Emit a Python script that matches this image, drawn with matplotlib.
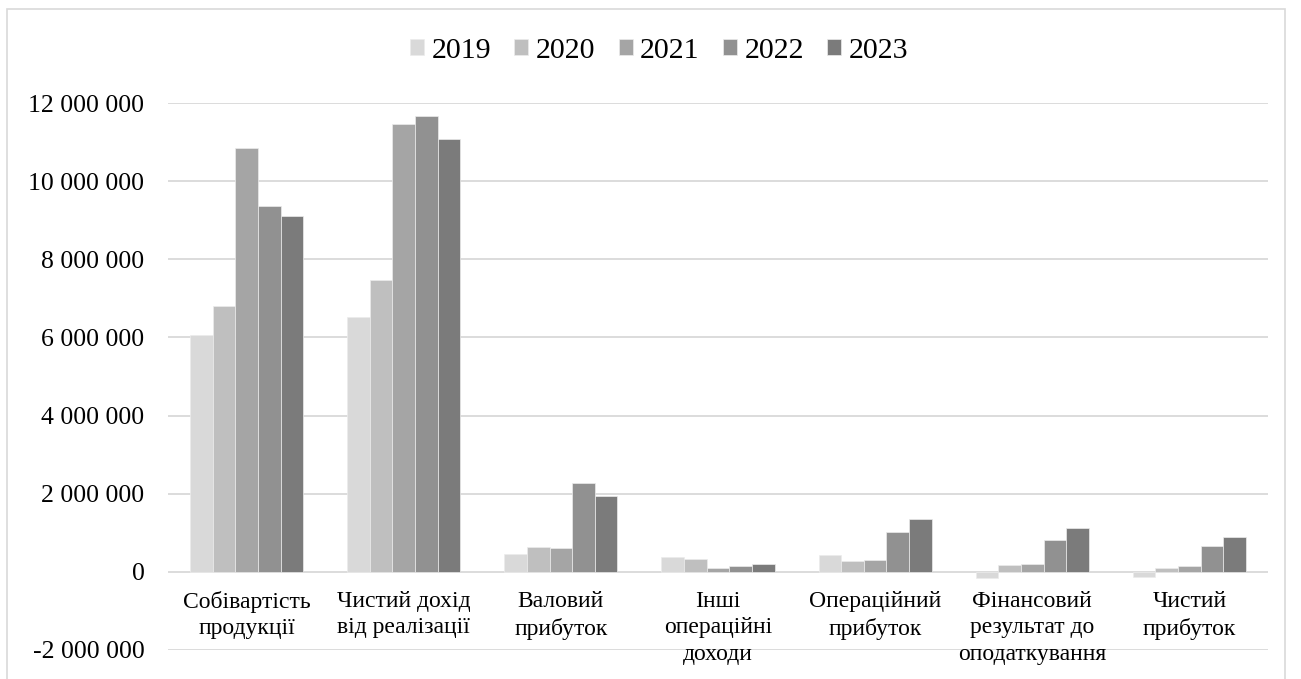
import matplotlib
matplotlib.use("Agg")
import matplotlib.pyplot as plt
import matplotlib.ticker as mticker
from matplotlib.patches import Rectangle
import numpy as np

plt.rcParams['font.family'] = ['Liberation Serif', 'DejaVu Serif']

categories = ["Собівартість\nпродукції", "Чистий дохід\nвід реалізації", "Валовий\nприбуток",
              "Інші\nопераційні\nдоходи", "Операційний\nприбуток", "Фінансовий\nрезультат до\nоподаткування",
              "Чистий\nприбуток"]
years = ["2019", "2020", "2021", "2022", "2023"]
v2019 = [6055000, 6520000, 460000, 370000, 430000, -160000, -140000]
v2020 = [6800000, 7460000, 640000, 340000, 280000, 170000, 110000]
v2021 = [10840000, 11450000, 600000, 110000, 310000, 200000, 160000]
v2022 = [9370000, 11660000, 2280000, 140000, 1010000, 820000, 670000]
v2023 = [9110000, 11070000, 1940000, 200000, 1350000, 1110000, 900000]
series = [v2019, v2020, v2021, v2022, v2023]
colors = ["#d9d9d9", "#bfbfbf", "#a5a5a5", "#919191", "#7b7b7b"]
yticks = [-2000000, 0, 2000000, 4000000, 6000000, 8000000, 10000000, 12000000]

W, H = 1301, 679
fig = plt.figure(figsize=(W/100, H/100), dpi=100)
ax = fig.add_axes([168/W, 1-650/H, 1100/W, (650-103)/H])

x = np.arange(len(categories))
bw = 0.144
for j, (vals, c, lab) in enumerate(zip(series, colors, years)):
    ax.bar(x + (j-2)*bw, vals, width=bw, color=c, edgecolor="#ececec", linewidth=0.5, label=lab, zorder=3)

ax.set_xlim(-0.5, len(categories)-0.5)
ax.set_ylim(-2000000, 12000000)
ax.set_yticks(yticks)
ax.yaxis.set_major_formatter(mticker.FuncFormatter(lambda v, p: f"{int(v):,}".replace(",", " ")))
ax.grid(axis='y', color="#d9d9d9", linewidth=1.3, zorder=0)
ax.set_xticks([])
for s in ax.spines.values():
    s.set_visible(False)
ax.tick_params(axis='y', length=0, pad=17, labelsize=18.5)

for i, lab in enumerate(categories):
    ax.annotate(lab, xy=(i, 0), xytext=(0, -14), textcoords='offset points',
                ha='center', va='top', fontsize=17, linespacing=1.32, annotation_clip=False)

fig.legend(loc='center', bbox_to_anchor=(659/W, 1-51/H), ncol=5, frameon=False, fontsize=21.5,
           handlelength=0.47, handleheight=0.44, handletextpad=0.25, columnspacing=0.78)

fig.patches.append(Rectangle((7/W, -0.01), (1285-7)/W, 1.01-9/H, transform=fig.transFigure,
                             fill=False, edgecolor="#d9d9d9", linewidth=1.2))

fig.savefig("out.png", dpi=100)
